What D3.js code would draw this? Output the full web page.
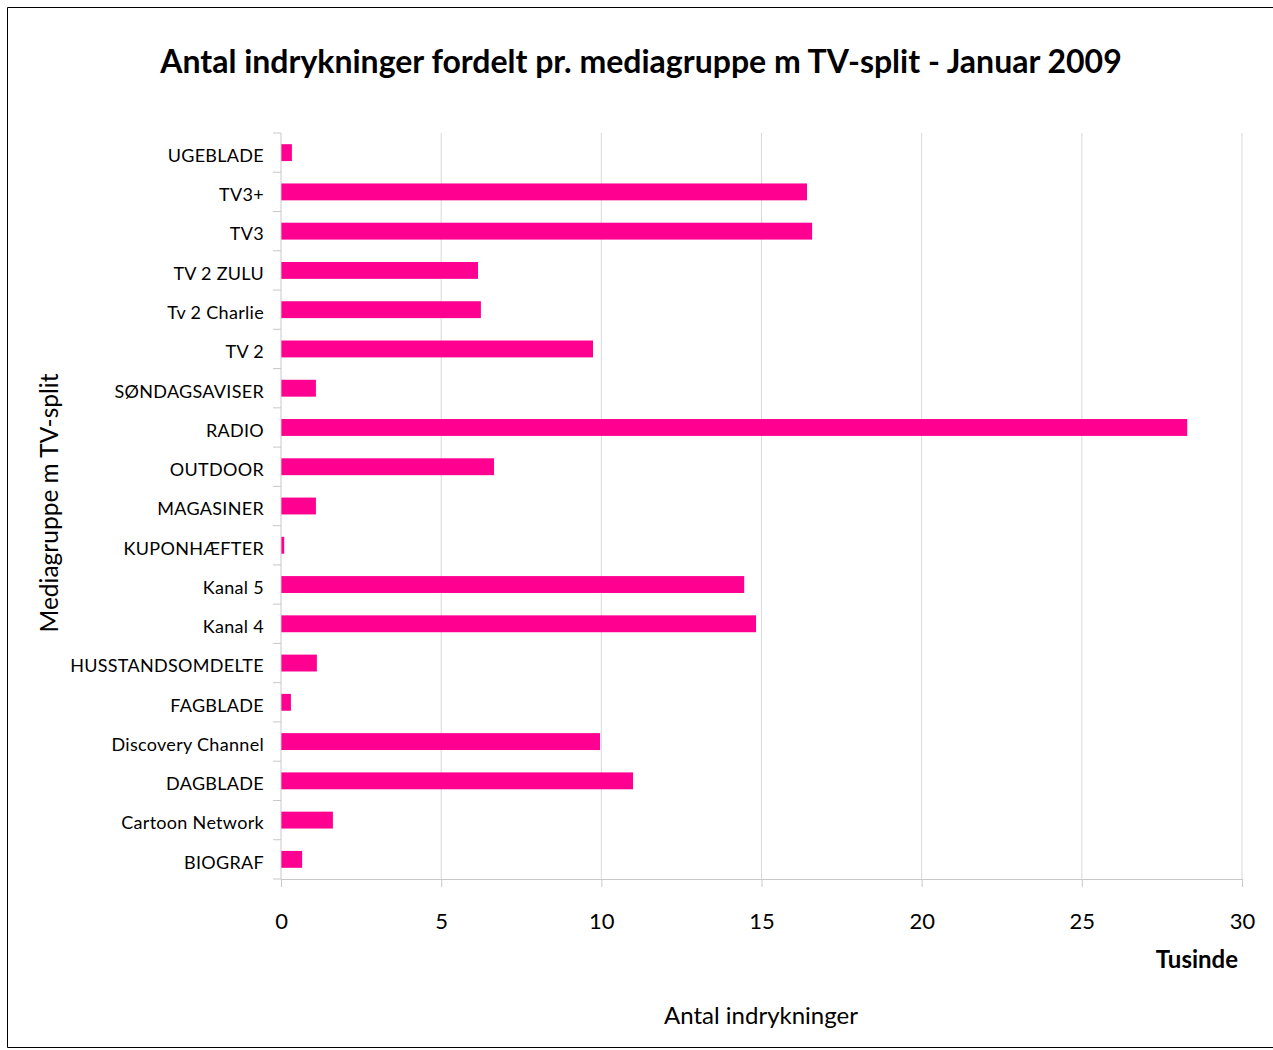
<!DOCTYPE html>
<html>
<head>
<meta charset="utf-8">
<script src="https://cdn.jsdelivr.net/npm/d3@7"></script>
<style>
  html, body { margin: 0; background: #fff; overflow: hidden; }
  svg { display: block; }
  svg text { font-family: Lato, "Open Sans", sans-serif; fill: #000; }
</style>
</head>
<body>
<div id="chart"></div>
<script>
// Categories, top to bottom as shown
const categories = ["UGEBLADE", "TV3+", "TV3", "TV 2 ZULU", "Tv 2 Charlie", "TV 2",
    "SØNDAGSAVISER", "RADIO", "OUTDOOR", "MAGASINER", "KUPONHÆFTER", "Kanal 5",
    "Kanal 4", "HUSSTANDSOMDELTE", "FAGBLADE", "Discovery Channel", "DAGBLADE",
    "Cartoon Network", "BIOGRAF"];
// Values in thousands
const values = [0.34, 16.42, 16.58, 6.15, 6.24, 9.74,
    1.09, 28.29, 6.65, 1.09, 0.1, 14.46,
    14.83, 1.12, 0.31, 9.96, 10.99,
    1.62, 0.66];
const xTicks = [0, 5, 10, 15, 20, 25, 30];

const width = 1273, height = 1050;
const margin = { top: 133, right: 31, bottom: 171, left: 281 };
const innerWidth = width - margin.left - margin.right;
const innerHeight = height - margin.top - margin.bottom;

const data = categories.map((c, i) => ({ cat: c, val: values[i] }));

const svg = d3.select("#chart").append("svg")
    .attr("width", width)
    .attr("height", height);

// outer border (right edge runs off the picture)
svg.append("path")
    .attr("d", `M${width},7.5 H7.5 V1047.5 H${width}`)
    .attr("fill", "none").attr("stroke", "#000").attr("stroke-width", 1);

// title
svg.append("text")
    .attr("x", 641).attr("y", 73)
    .attr("text-anchor", "middle")
    .style("font-size", "32px").style("font-weight", "bold")
    .text("Antal indrykninger fordelt pr. mediagruppe m TV-split - Januar 2009");

const chart = svg.append("g")
    .attr("transform", `translate(${margin.left}, ${margin.top})`);

const x = d3.scaleLinear().domain([0, 30]).range([0, innerWidth]);
const y = d3.scaleBand().domain(categories).range([0, innerHeight]).paddingInner(0.57).paddingOuter(0.285);

// gridlines
chart.append("g")
    .selectAll("line")
    .data(xTicks.slice(1))
    .enter().append("line")
    .attr("x1", d => x(d)).attr("x2", d => x(d))
    .attr("y1", 0).attr("y2", innerHeight)
    .attr("stroke", "#d9d9d9").attr("stroke-width", 1);

// bars
chart.selectAll("rect.bar")
    .data(data)
    .enter().append("rect")
    .attr("class", "bar")
    .attr("x", 0)
    .attr("y", d => y(d.cat))
    .attr("width", d => x(d.val))
    .attr("height", y.bandwidth())
    .attr("fill", "#ff0090");

// x axis
const xAxis = chart.append("g")
    .attr("transform", `translate(0, ${innerHeight})`)
    .call(d3.axisBottom(x).tickValues(xTicks).tickSize(8).tickPadding(26));
xAxis.select(".domain").attr("stroke", "#c8c8c8");
xAxis.selectAll(".tick line").attr("stroke", "#c8c8c8");
xAxis.selectAll("text").style("font-size", "22px").attr("fill", "#000");

// y axis: ticks between categories
const yAxis = chart.append("g");
yAxis.append("line")
    .attr("x1", 0).attr("x2", 0).attr("y1", 0).attr("y2", innerHeight)
    .attr("stroke", "#c8c8c8");
const step = y.step();
yAxis.selectAll("line.tk")
    .data(d3.range(categories.length + 1))
    .enter().append("line")
    .attr("class", "tk")
    .attr("x1", -8).attr("x2", 0)
    .attr("y1", d => d * step).attr("y2", d => d * step)
    .attr("stroke", "#c8c8c8");
yAxis.selectAll("text")
    .data(categories)
    .enter().append("text")
    .attr("x", -17)
    .attr("y", d => y(d) + y.bandwidth() / 2 + 3)
    .attr("dy", "0.35em")
    .attr("text-anchor", "end")
    .style("font-size", "18px")
    .style("letter-spacing", "0.3px")
    .text(d => d);

// units label
svg.append("text")
    .attr("x", 1238).attr("y", 968)
    .attr("text-anchor", "end")
    .style("font-size", "24px").style("font-weight", "bold")
    .text("Tusinde");

// x axis title
svg.append("text")
    .attr("x", 761).attr("y", 1024)
    .attr("text-anchor", "middle")
    .style("font-size", "24px")
    .text("Antal indrykninger");

// y axis title
svg.append("text")
    .attr("transform", "rotate(-90)")
    .attr("x", -503).attr("y", 58)
    .attr("text-anchor", "middle")
    .style("font-size", "24.5px")
    .text("Mediagruppe m TV-split");
</script>
</body>
</html>
